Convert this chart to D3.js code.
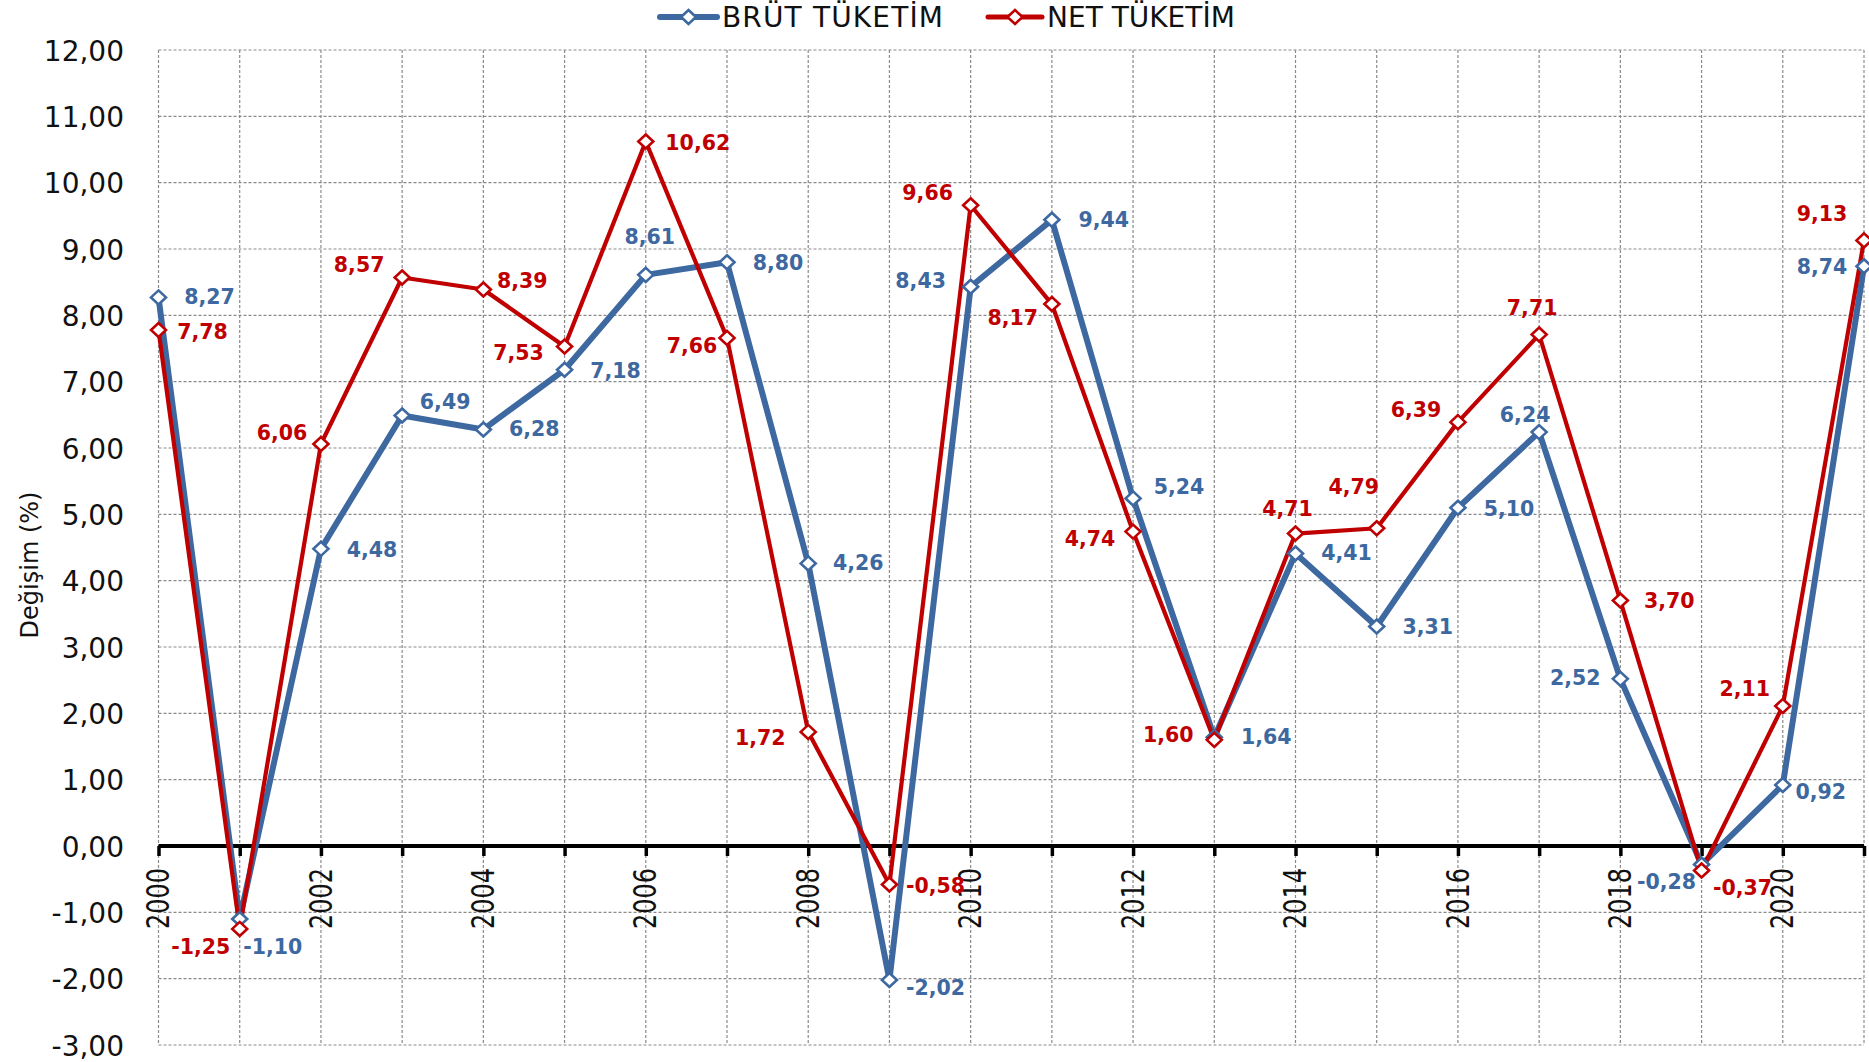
<!DOCTYPE html>
<html>
<head>
<meta charset="utf-8">
<script src="https://cdn.jsdelivr.net/npm/d3@7"></script>
<style>
html,body{margin:0;padding:0;background:#fff;}
svg{display:block;}
text{font-family:"DejaVu Sans",sans-serif;}
</style>
</head>
<body>
<svg id="chart" width="1869" height="1062"></svg>
<script>
// ---- data ----
const years = [2000,2001,2002,2003,2004,2005,2006,2007,2008,2009,2010,2011,2012,2013,2014,2015,2016,2017,2018,2019,2020,2021];
const brutValues = [8.27,-1.10,4.48,6.49,6.28,7.18,8.61,8.80,4.26,-2.02,8.43,9.44,5.24,1.64,4.41,3.31,5.10,6.24,2.52,-0.28,0.92,8.74];
const netValues  = [7.78,-1.25,6.06,8.57,8.39,7.53,10.62,7.66,1.72,-0.58,9.66,8.17,4.74,1.60,4.71,4.79,6.39,7.71,3.70,-0.37,2.11,9.13];
const yTicks = [-3,-2,-1,0,1,2,3,4,5,6,7,8,9,10,11,12];
const xLabelYears = [2000,2002,2004,2006,2008,2010,2012,2014,2016,2018,2020];
const seriesNames = ["BRÜT TÜKETİM","NET TÜKETİM"];
const yAxisTitle = "Değişim (%)";

// label placement offsets (px) relative to each point
const brutLabelOffsets = [[51,0],[33,28],[51,1],[43,-13],[51,0],[51,1],[4,-38],[51,1],[50,0],[46,8],[-50,-6],[52,0],[46,-11],[52,0],[51,0],[51,1],[51,1],[-14,-17],[-45,-1],[-35,17],[38,7],[-42,1]];
const netLabelOffsets  = [[44,2],[-39,18],[-39,-11],[-43,-13],[39,-8],[-46,6],[52,1],[-35,8],[-48,6],[46,2],[-43,-12],[-39,14],[-43,7],[-46,-5],[-8,-25],[-23,-41],[-42,-12],[-7,-27],[49,0],[41,17],[-38,-17],[-42,-26]];

// ---- layout ----
const L = 158.5, R = 1864, T = 50, B = 1045;
const BLUE = "#3D68A0", RED = "#C00000";
const svg = d3.select("#chart");

const x = d3.scaleLinear().domain([2000,2021]).range([L,R]);
const y = d3.scaleLinear().domain([-3,12]).range([B,T]);

const fmt = v => d3.format(".2f")(v).replace(".", ",").replace("−","-");

// gridlines
const grid = svg.append("g");
grid.selectAll("line.h").data(yTicks).join("line")
  .attr("x1",L).attr("x2",R).attr("y1",d=>y(d)).attr("y2",d=>y(d))
  .attr("stroke","#8a8a8a").attr("stroke-width",1.2).attr("stroke-dasharray","3,2");
grid.selectAll("line.v").data(years).join("line")
  .attr("x1",d=>x(d)).attr("x2",d=>x(d)).attr("y1",T).attr("y2",B)
  .attr("stroke","#8a8a8a").attr("stroke-width",1.2).attr("stroke-dasharray","3,2");

// y axis labels
const yAxis = d3.axisLeft(y).tickValues(yTicks).tickSize(0).tickPadding(0).tickFormat(fmt);
const yg = svg.append("g").attr("transform",`translate(124,0)`).call(yAxis);
yg.select(".domain").remove();
yg.selectAll("text").attr("font-family","DejaVu Sans").attr("font-size",28).attr("fill","#111").attr("dy","0.36em");

// y title
svg.append("text").attr("transform",`translate(30,565) rotate(-90)`)
  .attr("text-anchor","middle").attr("dominant-baseline","central")
  .attr("font-size",24).attr("fill","#111").text(yAxisTitle);

// zero axis with ticks
const xAxis = d3.axisBottom(x).tickValues(years).tickSize(10).tickFormat("");
const xg = svg.append("g").attr("transform",`translate(0,${y(0)})`).call(xAxis);
xg.select(".domain").attr("d",`M${L},0H${R}`).attr("stroke","#000").attr("stroke-width",4);
xg.selectAll(".tick line").attr("stroke","#000").attr("stroke-width",3.5);

// x labels
svg.append("g").selectAll("text").data(xLabelYears).join("text")
  .attr("transform",d=>`translate(${x(d)},${y(0)+22}) rotate(-90) scale(1,1.3)`)
  .attr("text-anchor","end").attr("dominant-baseline","central")
  .attr("font-size",24).attr("fill","#111").text(d=>d);

// lines
const series = [
  {name:seriesNames[0], vals:brutValues, color:BLUE, width:6, offs:brutLabelOffsets},
  {name:seriesNames[1], vals:netValues, color:RED, width:4.2, offs:netLabelOffsets}
];
const line = d3.line().x((d,i)=>x(years[i])).y(d=>y(d));
const diamond = "M0,-7L7.5,0L0,7L-7.5,0Z";

series.forEach(s=>{
  svg.append("path").datum(s.vals).attr("d",line).attr("fill","none")
    .attr("stroke",s.color).attr("stroke-width",s.width).attr("stroke-linejoin","round");
});
series.forEach(s=>{
  svg.append("g").selectAll("path").data(s.vals).join("path")
    .attr("d",diamond).attr("transform",(d,i)=>`translate(${x(years[i])},${y(d)})`)
    .attr("fill","#fff").attr("stroke",s.color).attr("stroke-width",2.6);
});
series.forEach(s=>{
  svg.append("g").selectAll("text").data(s.vals).join("text")
    .attr("x",(d,i)=>x(years[i])+s.offs[i][0]).attr("y",(d,i)=>y(d)+s.offs[i][1])
    .attr("text-anchor","middle").attr("dominant-baseline","central")
    .attr("font-size",20.5).attr("font-weight","bold").attr("fill",s.color).text(d=>fmt(d));
});

// legend
const legend = svg.append("g");
const legItems = [{name:seriesNames[0],color:BLUE,x0:660,x1:717,tx:722,w:6},{name:seriesNames[1],color:RED,x0:988,x1:1042,tx:1047,w:5}];
legItems.forEach(it=>{
  legend.append("line").attr("x1",it.x0).attr("x2",it.x1).attr("y1",17).attr("y2",17)
    .attr("stroke",it.color).attr("stroke-width",it.w).attr("stroke-linecap","round");
  legend.append("path").attr("d",diamond).attr("transform",`translate(${(it.x0+it.x1)/2},17)`)
    .attr("fill","#fff").attr("stroke",it.color).attr("stroke-width",2.6);
  legend.append("text").attr("x",it.tx).attr("y",27).attr("font-size",28).attr("fill","#111")
    .attr("textLength", it.name.length>11?221:null).text(it.name);
});
</script>
</body>
</html>
